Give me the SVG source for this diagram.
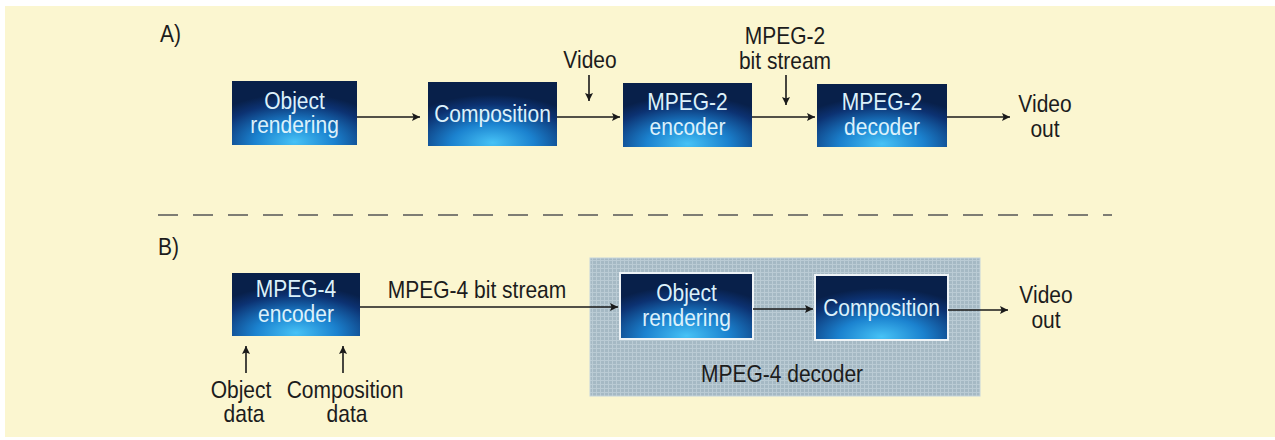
<svg xmlns="http://www.w3.org/2000/svg" width="1275" height="440" viewBox="0 0 1275 440">
  <defs>
    <radialGradient id="boxGrad" cx="50%" cy="100%" r="80%" fx="50%" fy="95%">
      <stop offset="0" stop-color="#46c2f6"/>
      <stop offset="0.4" stop-color="#1b82cf"/>
      <stop offset="0.8" stop-color="#0c3272"/>
      <stop offset="1" stop-color="#08204a"/>
    </radialGradient>
    <pattern id="weave" width="4" height="4" patternUnits="userSpaceOnUse">
      <rect width="4" height="4" fill="#a5b9c4"/>
      <path d="M0 0.5H4M0.5 0V4" stroke="#bacbd4" stroke-width="1"/>
    </pattern>
    <marker id="arrow" viewBox="0 0 10 10" refX="10" refY="5" markerWidth="11" markerHeight="8" markerUnits="userSpaceOnUse" orient="auto">
      <path d="M0 0L10 5L0 10L2 5Z" fill="#1a1a1a"/>
    </marker>
  </defs>
  <style>
    .box { fill: url(#boxGrad); }
    .boxw { fill: url(#boxGrad); stroke: #eef3f6; stroke-width: 2; }
    .bt { font-family: "Liberation Sans", Arial, sans-serif; font-size: 24px; fill: #dcf1fb; text-anchor: middle; }
    .lbl { font-family: "Liberation Sans", Arial, sans-serif; font-size: 24px; fill: #1c1c1c; text-anchor: middle; }
    .sec { font-family: "Liberation Sans", Arial, sans-serif; font-size: 24px; fill: #1c1c1c; }
    .conn { stroke: #1a1a1a; stroke-width: 1.6; fill: none; marker-end: url(#arrow); }
  </style>

  <rect x="0" y="0" width="1275" height="440" fill="#ffffff"/>
  <rect x="5" y="6" width="1270" height="431" fill="#fbf6d0"/>

  <text class="sec" transform="translate(160 42) scale(0.875 1)">A)</text>
  <text class="sec" transform="translate(158 255) scale(0.875 1)">B)</text>

  <line x1="158" y1="215" x2="1112" y2="215" stroke="#555555" stroke-width="1.6" stroke-dasharray="20 15"/>

  <!-- Section A nodes -->
  <g id="a-object-rendering">
    <rect class="box" x="232" y="81" width="125" height="64"/>
    <text class="bt" transform="translate(294.5 109) scale(0.875 1)">Object</text>
    <text class="bt" transform="translate(294.5 133) scale(0.875 1)">rendering</text>
  </g>
  <g id="a-composition">
    <rect class="box" x="428" y="82" width="129" height="64"/>
    <text class="bt" transform="translate(492.5 122) scale(0.875 1)">Composition</text>
  </g>
  <g id="a-mpeg2-encoder">
    <rect class="box" x="623" y="83" width="129" height="64"/>
    <text class="bt" transform="translate(687.5 110) scale(0.875 1)">MPEG-2</text>
    <text class="bt" transform="translate(687.5 135) scale(0.875 1)">encoder</text>
  </g>
  <g id="a-mpeg2-decoder">
    <rect class="box" x="817" y="84" width="130" height="63"/>
    <text class="bt" transform="translate(882 110) scale(0.875 1)">MPEG-2</text>
    <text class="bt" transform="translate(882 135) scale(0.875 1)">decoder</text>
  </g>
  <g id="a-video-in">
    <text class="lbl" transform="translate(590 68) scale(0.875 1)">Video</text>
  </g>
  <g id="a-bitstream">
    <text class="lbl" transform="translate(785 44) scale(0.875 1)">MPEG-2</text>
    <text class="lbl" transform="translate(785 69) scale(0.875 1)">bit stream</text>
  </g>
  <g id="a-video-out">
    <text class="lbl" transform="translate(1045 112) scale(0.875 1)">Video</text>
    <text class="lbl" transform="translate(1045 137) scale(0.875 1)">out</text>
  </g>

  <!-- Section B nodes -->
  <g id="b-mpeg4-decoder">
    <rect x="590" y="258" width="390" height="138" fill="url(#weave)" stroke="#c4d3db" stroke-width="1"/>
    <text class="lbl" fill="#111111" transform="translate(782 382) scale(0.875 1)">MPEG-4 decoder</text>
  </g>
  <g id="b-mpeg4-encoder">
    <rect class="box" x="232" y="273" width="128" height="63"/>
    <text class="bt" transform="translate(296 297) scale(0.875 1)">MPEG-4</text>
    <text class="bt" transform="translate(296 322) scale(0.875 1)">encoder</text>
  </g>
  <g id="b-object-rendering">
    <rect class="boxw" x="620" y="273" width="133" height="66"/>
    <text class="bt" transform="translate(686.5 301) scale(0.875 1)">Object</text>
    <text class="bt" transform="translate(686.5 326) scale(0.875 1)">rendering</text>
  </g>
  <g id="b-composition">
    <rect class="boxw" x="815" y="275" width="133" height="65"/>
    <text class="bt" transform="translate(881.5 316) scale(0.875 1)">Composition</text>
  </g>
  <g id="b-object-data">
    <text class="lbl" transform="translate(241 398) scale(0.875 1)">Object</text>
    <text class="lbl" transform="translate(244 422) scale(0.875 1)">data</text>
  </g>
  <g id="b-composition-data">
    <text class="lbl" transform="translate(345 398) scale(0.875 1)">Composition</text>
    <text class="lbl" transform="translate(347 422) scale(0.875 1)">data</text>
  </g>
  <g id="b-bitstream-label">
    <text class="lbl" transform="translate(477 298) scale(0.875 1)">MPEG-4 bit stream</text>
  </g>
  <g id="b-video-out">
    <text class="lbl" transform="translate(1046 303) scale(0.875 1)">Video</text>
    <text class="lbl" transform="translate(1046 328) scale(0.875 1)">out</text>
  </g>

  <!-- Connectors -->
  <g id="connectors">
    <line class="conn" x1="357" y1="117" x2="420" y2="117"/>
    <line class="conn" x1="557" y1="117" x2="620" y2="117"/>
    <line class="conn" x1="752" y1="117" x2="815" y2="117"/>
    <line class="conn" x1="947" y1="117" x2="1010" y2="117"/>
    <line class="conn" x1="589" y1="75" x2="589" y2="101"/>
    <line class="conn" x1="786" y1="75" x2="786" y2="105"/>

    <line class="conn" x1="360" y1="307" x2="618" y2="307"/>
    <line class="conn" x1="753" y1="309" x2="813" y2="309"/>
    <line class="conn" x1="948" y1="310" x2="1008" y2="310"/>
    <line class="conn" x1="246" y1="373" x2="246" y2="346"/>
    <line class="conn" x1="343" y1="373" x2="343" y2="346"/>
  </g>
</svg>
